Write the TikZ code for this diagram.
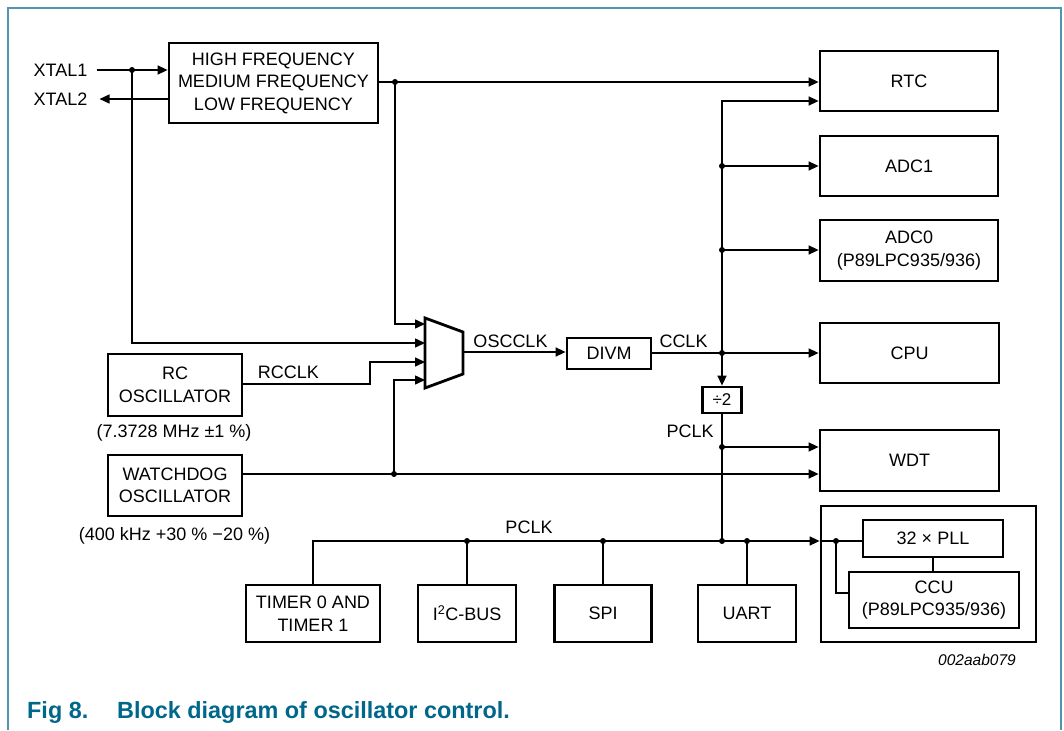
\documentclass[tikz,border=0pt]{standalone}
\usepackage{fontspec}
\setmainfont{Liberation Sans}
\usetikzlibrary{arrows.meta}
\definecolor{frameblue}{RGB}{80,150,175}
\definecolor{captionblue}{RGB}{0,103,138}
\newcommand\bodyfs{\fontsize{18}{22.5}\selectfont}
\begin{document}
\begin{tikzpicture}[x=1pt,y=-1pt,
  box/.style={draw, line width=2.8pt, inner sep=0pt, align=center, font=\bodyfs},
  lbl/.style={inner sep=0pt, align=center, font=\bodyfs},
  wire/.style={line width=1.5pt},
  arr/.style={-{Triangle[length=10pt,width=9pt]}},
  jdot/.style={fill=black}
]
\useasboundingbox (0,0) rectangle (1064,730);
% frame
\draw[frameblue, line width=1.5pt] (8,730) -- (8,8) -- (1061,8) -- (1061,730);

% boxes
\node[box, minimum width=209pt, minimum height=80pt] (hf) at (273.5,83) {HIGH FREQUENCY\\MEDIUM FREQUENCY\\LOW FREQUENCY};
\node[box, minimum width=178pt, minimum height=60pt] (rtc) at (909,81) {RTC};
\node[box, minimum width=178pt, minimum height=60pt] (adc1) at (909,166) {ADC1};
\node[box, minimum width=178pt, minimum height=61pt] (adc0) at (909,250.5) {ADC0\\(P89LPC935/936)};
\node[box, minimum width=179pt, minimum height=60pt] (cpu) at (909.5,353) {CPU};
\node[box, minimum width=179pt, minimum height=61pt] (wdt) at (909.5,460.5) {WDT};
\node[box, minimum width=215pt, minimum height=136pt] (big) at (928.5,574) {};
\node[box, minimum width=140pt, minimum height=37pt] (pll) at (933,538.5) {32 × PLL};
\node[box, minimum width=170pt, minimum height=56pt] (ccu) at (934,600) {CCU\\(P89LPC935/936)};
\node[box, minimum width=84pt, minimum height=31pt] (divm) at (609,353.5) {DIVM};
\node[box, minimum width=39pt, minimum height=26pt, font=\fontsize{17}{20}\selectfont] (div2) at (722,400) {÷2};
\node[box, minimum width=134pt, minimum height=62pt] (rc) at (175,385) {RC\\OSCILLATOR};
\node[box, minimum width=134pt, minimum height=61pt] (wd) at (175,485.5) {WATCHDOG\\OSCILLATOR};
\node[box, minimum width=134pt, minimum height=57pt] (timer) at (313,613.5) {TIMER 0 AND\\TIMER 1};
\node[box, minimum width=98pt, minimum height=57pt] (i2c) at (467,613.5) {I\textsuperscript{2}C-BUS};
\node[box, minimum width=97pt, minimum height=57pt] (spi) at (603,613.5) {SPI};
\node[box, minimum width=98pt, minimum height=57pt] (uart) at (747,613.5) {UART};

% multiplexer
\draw[line width=2.8pt, line join=miter] (425,318) -- (463,332) -- (463,374) -- (425,388) -- cycle;
\coordinate (mi1) at (425,324);
\coordinate (mi2) at (425,343);
\coordinate (mi3) at (425,362);
\coordinate (mi4) at (425,380);
\coordinate (muxout) at (463,352);

% labels
\node[lbl] (xtal1) at (60.5,70) {XTAL1};
\node[lbl] (xtal2) at (60.5,99) {XTAL2};
\node[lbl] (rcnote) at (174,433) {(7.3728 MHz ±1 \%)};
\node[lbl] (wdnote) at (174.5,536) {(400 kHz +30 \% −20 \%)};
\node[lbl] (rcclk) at (288.5,372) {RCCLK};
\node[lbl] (oscclk) at (510.5,341) {OSCCLK};
\node[lbl] (cclk) at (683.5,341) {CCLK};
\node[lbl] (pclka) at (690,431) {PCLK};
\node[lbl] (pclkb) at (529,527) {PCLK};
\node[inner sep=0pt, font=\fontsize{15.5}{18}\selectfont\itshape] (code) at (977,660) {002aab079};
\node[inner sep=0pt, anchor=west, text=captionblue, font=\fontsize{23.4}{27}\selectfont\bfseries] (figno) at (27,712) {Fig 8.};
\node[inner sep=0pt, anchor=west, text=captionblue, font=\fontsize{23.4}{27}\selectfont\bfseries] (figtitle) at (117,712) {Block diagram of oscillator control.};

% junctions
\coordinate (jx1) at (132,70);
\coordinate (jhf) at (395,82);
\coordinate (rcy) at (370,384);
\coordinate (jwd) at (394,474);
\coordinate (jcclk) at (722,353);
\coordinate (jtop) at (722,101);
\coordinate (ja1) at (722,166);
\coordinate (ja0) at (722,250);
\coordinate (jwdt) at (722,447);
\coordinate (jbus) at (722,541);
\coordinate (bl) at (313,541);
\coordinate (ji2c) at (467,541);
\coordinate (jspi) at (603,541);
\coordinate (juart) at (747,541);
\coordinate (jin) at (836,541);
\coordinate (ccuy) at (836,593);

% connectors
\draw[wire,arr] ([xshift=9pt]xtal1.east) -- (hf.west |- xtal1);
\draw[wire,arr] (hf.west |- xtal2) -- ([xshift=12pt]xtal2.east);
\draw[wire,arr] (jx1) -- (jx1 |- mi2) -- (mi2);
\draw[wire,arr] (hf.east |- jhf) -- (rtc.west |- jhf);
\draw[wire,arr] (jhf) -- (jhf |- mi1) -- (mi1);
\draw[wire,arr] (rc.east |- rcy) -- (rcy) -- (rcy |- mi3) -- (mi3);
\draw[wire,arr] (wd.east |- jwd) -- (wdt.west |- jwd);
\draw[wire,arr] (jwd) -- (jwd |- mi4) -- (mi4);
\draw[wire,arr] (muxout) -- (divm.west |- muxout);
\draw[wire,arr] (divm.east |- jcclk) -- (cpu.west |- jcclk);
\draw[wire,arr] (jcclk) -- (jtop) -- (rtc.west |- jtop);
\draw[wire,arr] (ja1) -- (adc1.west |- ja1);
\draw[wire,arr] (ja0) -- (adc0.west |- ja0);
\draw[wire,arr] (jcclk) -- (div2.north);
\draw[wire] (div2.south) -- (jbus);
\draw[wire,arr] (jwdt) -- (wdt.west |- jwdt);
\draw[wire,arr] (timer.north) -- (bl) -- (big.west |- bl);
\draw[wire] (ji2c) -- (i2c.north);
\draw[wire] (jspi) -- (spi.north);
\draw[wire] (juart) -- (uart.north);
\draw[wire] (big.west |- jin) -- (pll.west |- jin);
\draw[wire] (jin) -- (ccuy) -- (ccu.west |- ccuy);
\draw[wire] (pll.south) -- (pll.south |- ccu.north);

% dots
\foreach \p in {jx1,jhf,jwd,jcclk,ja1,ja0,jwdt,jbus,ji2c,jspi,juart,jin}
  \fill[jdot] (\p) circle (3pt);
\end{tikzpicture}
\end{document}
